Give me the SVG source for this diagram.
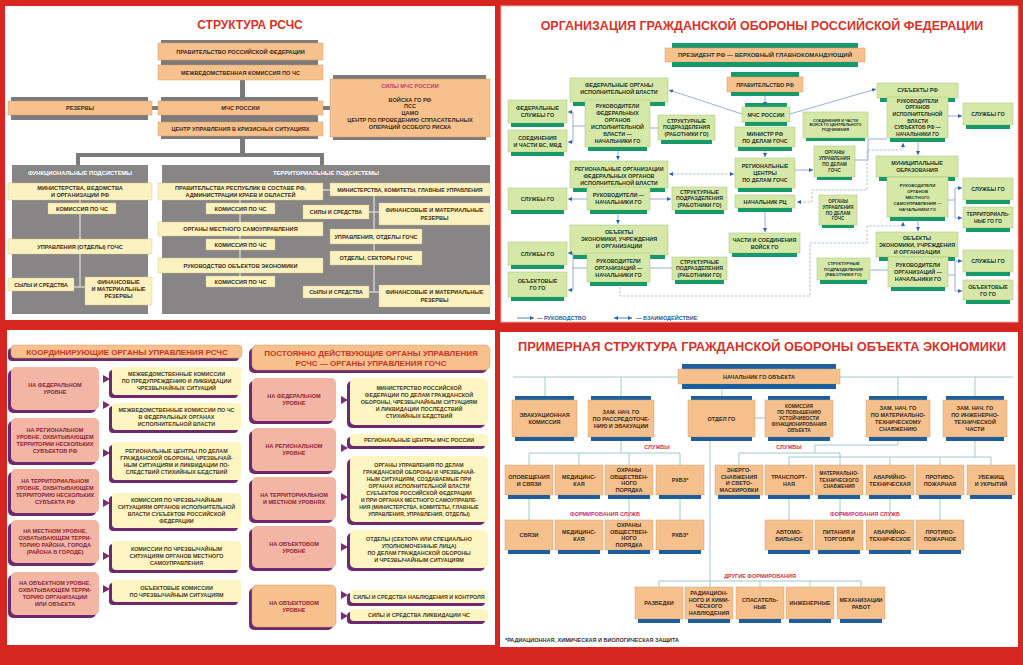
<svg xmlns="http://www.w3.org/2000/svg" width="1023" height="665" viewBox="0 0 1023 665">
<defs>
<style>
.tx{font-family:"Liberation Sans",Arial,sans-serif;font-weight:bold;text-anchor:middle}
.a{font-size:5.6px;fill:#3b2b1c}
.w{font-size:5.8px;fill:#ffffff}
.b{font-size:5.4px;fill:#22372a}
.p{font-size:5.5px;fill:#8a2438}
.y{font-size:5.4px;fill:#4a3a22}
.r{font-size:5.5px;fill:#3a2a1a}
.lab{font-size:5.5px;fill:#d0305a}
.ttl{font-family:"Liberation Sans",Arial,sans-serif;font-weight:bold;text-anchor:middle;fill:#d8322a}
.hd{font-family:"Liberation Sans",Arial,sans-serif;font-weight:bold;text-anchor:middle;fill:#c8342a;font-size:8px}
.or{fill:#f6c18d;stroke:#d49a6a;stroke-width:0.5}
.gbar{fill:#7c7a7b}
.gpan{fill:#878586}
.yl{fill:#fcf2bf;stroke:#cfc38a;stroke-width:0.4}
.gn{fill:#d6e8a8;stroke:#a3c27a;stroke-width:0.5}
.gb{fill:#17996a}
.bl{fill:none;stroke:#7f9dc6;stroke-width:0.8}
.dl{fill:none;stroke:#9ab0cc;stroke-width:0.8;stroke-dasharray:2.5,1.5}
.pk{fill:#f3b6a4}
.sh{fill:#6c2a6c}
.yb{fill:#fdf6c3}
.tri{fill:#7e2a78}
.ob{fill:#f5c08b;stroke:#c8a27c;stroke-width:0.5}
.bb{fill:#1d5e9e}
.ln{fill:none;stroke:#a6c8d2;stroke-width:1}
.gl{fill:none;stroke:#d0d0d0;stroke-width:1.5}
</style>
<marker id="ar" viewBox="0 0 6 6" refX="6" refY="3" markerWidth="4" markerHeight="4" markerUnits="userSpaceOnUse" orient="auto-start-reverse"><path d="M0,0L6,3L0,6z" fill="#2e62a6"/></marker>
</defs>

<rect x="0" y="0" width="1023" height="665" fill="#d5261f"/>
<rect x="5" y="6" width="490" height="314" fill="#ffffff"/>
<rect x="501" y="6" width="517" height="316" fill="#ffffff" stroke="#f2b7a6" stroke-width="1"/>
<rect x="7" y="330" width="488" height="315" fill="#ffffff"/>
<rect x="500" y="332" width="518" height="315" fill="#ffffff"/>

<!-- ============ TOP LEFT: СТРУКТУРА РСЧС ============ -->
<text class="ttl" x="250" y="29" font-size="12">СТРУКТУРА РСЧС</text>

<g id="tl-connectors">
<rect class="gbar" x="161" y="40" width="157" height="40"/>
<rect class="gbar" x="161" y="97" width="157" height="42"/>
<rect class="gbar" x="11" y="97" width="137" height="23"/>
<rect class="gbar" x="333" y="75" width="153" height="65"/>
<rect class="gbar" x="240" y="80" width="5" height="17"/>
<rect class="gbar" x="152" y="106" width="6" height="4"/>
<rect class="gbar" x="323" y="106" width="7" height="4"/>
<rect class="gbar" x="240" y="139" width="5" height="16"/>
<rect class="gbar" x="76" y="153" width="248" height="4"/>
<rect class="gbar" x="76" y="153" width="4" height="12"/>
<rect class="gbar" x="320" y="153" width="4" height="12"/>
</g>

<g id="tl-func-panel"><rect class="gpan" x="12" y="165" width="136" height="149"/><text class="tx w" x="80" y="175">ФУНКЦИОНАЛЬНЫЕ ПОДСИСТЕМЫ</text></g>
<g id="tl-terr-panel"><rect class="gpan" x="162" y="165" width="328" height="149"/><text class="tx w" x="326" y="175">ТЕРРИТОРИАЛЬНЫЕ ПОДСИСТЕМЫ</text></g>

<g id="tl-inner-lines">
<path class="gl" d="M80,200V287M74,287H85"/>
<path class="gl" d="M240,200V276"/>
<path class="gl" d="M374,196V292M369,212H379M369,292H379"/>
<path class="gl" d="M323,190H330"/>
</g>

<g id="tl-prav"><rect class="or" x="158" y="43" width="165" height="17"/><text class="tx a" x="240.5" y="53.5">ПРАВИТЕЛЬСТВО РОССИЙСКОЙ ФЕДЕРАЦИИ</text></g>
<g id="tl-mkchs"><rect class="or" x="158" y="65" width="165" height="15"/><text class="tx a" x="240.5" y="74.5">МЕЖВЕДОМСТВЕННАЯ КОМИССИЯ ПО ЧС</text></g>
<g id="tl-mchs"><rect class="or" x="158" y="101" width="165" height="14"/><text class="tx a" x="240.5" y="110">МЧС РОССИИ</text></g>
<g id="tl-centr"><rect class="or" x="158" y="122" width="165" height="14"/><text class="tx a" x="240.5" y="131">ЦЕНТР УПРАВЛЕНИЯ В КРИЗИСНЫХ СИТУАЦИЯХ</text></g>
<g id="tl-rezervy"><rect class="or" x="8" y="101" width="144" height="14"/><text class="tx a" x="80" y="110">РЕЗЕРВЫ</text></g>
<g id="tl-sily"><rect class="or" x="330" y="79" width="160" height="58"/>
<text class="tx a" x="410" y="88" style="fill:#c03a7a">СИЛЫ МЧС РОССИИ</text>
<text class="tx a" x="410" y="101.5"><tspan x="410">ВОЙСКА ГО РФ</tspan><tspan x="410" dy="6.8">ПСС</tspan><tspan x="410" dy="6.8">ЦАМО</tspan><tspan x="410" dy="6.8">ЦЕНТР ПО ПРОВЕДЕНИЮ СППАСАТЕЛЬНЫХ</tspan><tspan x="410" dy="6.8">ОПЕРАЦИЙ ОСОБОГО РИСКА</tspan></text></g>

<g id="tl-f-min"><rect class="yl" x="8" y="183" width="144" height="17"/><text class="tx a" x="80" y="189.5"><tspan x="80">МИНИСТЕРСТВА, ВЕДОМСТВА</tspan><tspan x="80" dy="7">И ОРГАНИЗАЦИИ РФ</tspan></text></g>
<g id="tl-f-kom"><rect class="yl" x="48" y="203" width="68" height="11"/><text class="tx a" x="82" y="210.5">КОМИССИЯ ПО ЧС</text></g>
<g id="tl-f-upr"><rect class="yl" x="8" y="239" width="144" height="15"/><text class="tx a" x="80" y="248.5">УПРАВЛЕНИЯ (ОТДЕЛЫ) ГОЧС</text></g>
<g id="tl-f-sily"><rect class="yl" x="8" y="278" width="66" height="13"/><text class="tx a" x="41" y="286.5" style="font-size:5.3px">СЫЛЫ И СРЕДСТВА</text></g>
<g id="tl-f-fin"><rect class="yl" x="85" y="277" width="67" height="28"/><text class="tx a" x="118.5" y="284"><tspan x="118.5">ФИНАНСОВЫЕ</tspan><tspan x="118.5" dy="7">И МАТЕРИАЛЬНЫЕ</tspan><tspan x="118.5" dy="7">РЕЗЕРВЫ</tspan></text></g>

<g id="tl-t-prav"><rect class="yl" x="158" y="183" width="165" height="17"/><text class="tx a" x="240.5" y="189.5"><tspan x="240.5">ПРАВИТЕЛЬСТВА РЕСПУБЛИК В СОСТАВЕ РФ,</tspan><tspan x="240.5" dy="7">АДМИНИСТРАЦИИ КРАЕВ И ОБЛАСТЕЙ</tspan></text></g>
<g id="tl-t-min"><rect class="yl" x="330" y="183" width="160" height="13"/><text class="tx a" x="410" y="191.5" style="font-size:5.3px">МИНИСТЕРСТВА, КОМИТЕТЫ, ГЛАВНЫЕ УПРАВЛЕНИЯ</text></g>
<g id="tl-t-kom1"><rect class="yl" x="206" y="203" width="69" height="11"/><text class="tx a" x="240.5" y="210.5">КОМИССИЯ ПО ЧС</text></g>
<g id="tl-t-sily1"><rect class="yl" x="303" y="205" width="66" height="14"/><text class="tx a" x="336" y="214" style="font-size:5.3px">СИЛЫ И СРЕДСТВА</text></g>
<g id="tl-t-fin1"><rect class="yl" x="379" y="203" width="111" height="22"/><text class="tx a" x="434.5" y="212"><tspan x="434.5">ФИНАНСОВЫЕ И МАТЕРИАЛЬНЫЕ</tspan><tspan x="434.5" dy="7.5">РЕЗЕРВЫ</tspan></text></g>
<g id="tl-t-oms"><rect class="yl" x="158" y="222" width="165" height="14"/><text class="tx a" x="240.5" y="231">ОРГАНЫ МЕСТНОГО САМОУПРАВЛЕНИЯ</text></g>
<g id="tl-t-upr"><rect class="yl" x="330" y="229" width="92" height="15"/><text class="tx a" x="376" y="238.5">УПРАВЛЕНИЯ, ОТДЕЛЫ ГОЧС</text></g>
<g id="tl-t-kom2"><rect class="yl" x="206" y="239" width="69" height="11"/><text class="tx a" x="240.5" y="246.5">КОМИССИЯ ПО ЧС</text></g>
<g id="tl-t-otd"><rect class="yl" x="330" y="251" width="92" height="14"/><text class="tx a" x="376" y="260">ОТДЕЛЫ, СЕКТОРЫ ГОЧС</text></g>
<g id="tl-t-ruk"><rect class="yl" x="158" y="258" width="165" height="15"/><text class="tx a" x="240.5" y="267.5">РУКОВОДСТВО ОБЪЕКТОВ ЭКОНОМИКИ</text></g>
<g id="tl-t-kom3"><rect class="yl" x="206" y="276" width="69" height="11"/><text class="tx a" x="240.5" y="283.5">КОМИССИЯ ПО ЧС</text></g>
<g id="tl-t-sily2"><rect class="yl" x="303" y="286" width="66" height="12"/><text class="tx a" x="336" y="294" style="font-size:5.3px">СЫЛЫ И СРЕДСТВА</text></g>
<g id="tl-t-fin2"><rect class="yl" x="379" y="285" width="111" height="22"/><text class="tx a" x="434.5" y="294"><tspan x="434.5">ФИНАНСОВЫЕ И МАТЕРИАЛЬНЫЕ</tspan><tspan x="434.5" dy="7.5">РЕЗЕРВЫ</tspan></text></g>

<!-- ============ TOP RIGHT: ОРГАНИЗАЦИЯ ГО РФ ============ -->
<text class="ttl" x="762" y="30" font-size="12.5">ОРГАНИЗАЦИЯ ГРАЖДАНСКОЙ ОБОРОНЫ РОССИЙСКОЙ ФЕДЕРАЦИИ</text>

<g id="tr-pres"><rect class="gb" x="672" y="43" width="186" height="5"/><rect class="or" x="665" y="48" width="200" height="14"/><rect class="gb" x="672" y="62" width="186" height="5"/><text class="tx b" x="765" y="57" style="font-size:6px">ПРЕЗИДЕНТ РФ — ВЕРХОВНЫЙ ГЛАВНОКОМАНДУЮЩИЙ</text></g>
<g id="tr-prav"><rect class="gb" x="731" y="72" width="68" height="5"/><rect class="or" x="727" y="77" width="76" height="15"/><rect class="gb" x="731" y="92" width="68" height="4"/><text class="tx b" x="765" y="86.5">ПРАВИТЕЛЬСТВО РФ</text></g>
<g id="tr-mchs"><rect class="gb" x="745" y="103" width="42" height="4"/><rect class="gn" x="742" y="107" width="48" height="15"/><rect class="gb" x="745" y="122" width="42" height="4"/><text class="tx b" x="766" y="116.5">МЧС РОССИИ</text></g>
<g id="tr-ministr"><rect class="gn" x="735" y="127" width="60" height="20"/><rect class="gb" x="738" y="147" width="54" height="4"/><text class="tx b" x="765" y="135.5"><tspan x="765">МИНИСТР РФ</tspan><tspan x="765" dy="7">ПО ДЕЛАМ ГОЧС</tspan></text></g>
<g id="tr-soed"><rect class="gn" x="803" y="112" width="65" height="26"/><rect class="gb" x="806" y="138" width="59" height="3"/><text class="tx b" x="835.5" y="121.5" style="font-size:3.8px"><tspan x="835.5">СОЕДИНЕНИЯ И ЧАСТИ</tspan><tspan x="835.5" dy="4.8">ВОЙСК ГО ЦЕНТРАЛЬНОГО</tspan><tspan x="835.5" dy="4.8">ПОДЧИНЕНИЯ</tspan></text></g>
<g id="tr-org1"><rect class="gn" x="814" y="146" width="41" height="31"/><rect class="gb" x="817" y="177" width="35" height="3"/><text class="tx b" x="834.5" y="154.4" style="font-size:4.5px"><tspan x="834.5">ОРГАНЫ</tspan><tspan x="834.5" dy="5.8">УПРАВЛЕНИЯ</tspan><tspan x="834.5" dy="5.8">ПО ДЕЛАМ</tspan><tspan x="834.5" dy="5.8">ГОЧС</tspan></text></g>
<g id="tr-regc"><rect class="gn" x="735" y="158" width="60" height="30"/><rect class="gb" x="738" y="188" width="54" height="4"/><text class="tx b" x="765" y="168"><tspan x="765">РЕГИОНАЛЬНЫЕ</tspan><tspan x="765" dy="7">ЦЕНТРЫ</tspan><tspan x="765" dy="7">ПО ДЕЛАМ ГОЧС</tspan></text></g>
<g id="tr-nachrc"><rect class="gn" x="735" y="195" width="60" height="13"/><rect class="gb" x="738" y="208" width="54" height="4"/><text class="tx b" x="765" y="203.5">НАЧАЛЬНИК РЦ</text></g>
<g id="tr-org2"><rect class="gn" x="819" y="195" width="38" height="30"/><rect class="gb" x="822" y="225" width="32" height="3"/><text class="tx b" x="838" y="202.9" style="font-size:4.5px"><tspan x="838">ОРГАНЫ</tspan><tspan x="838" dy="5.8">УПРАВЛЕНИЯ</tspan><tspan x="838" dy="5.8">ПО ДЕЛАМ</tspan><tspan x="838" dy="5.8">ГОЧС</tspan></text></g>
<g id="tr-chasti"><rect class="gn" x="729" y="233" width="71" height="20"/><rect class="gb" x="732" y="253" width="65" height="4"/><text class="tx b" x="764.5" y="241.5"><tspan x="764.5">ЧАСТИ И СОЕДИНЕНИЯ</tspan><tspan x="764.5" dy="7">ВОЙСК ГО</tspan></text></g>

<g id="tr-subj"><rect class="gn" x="877" y="83" width="81" height="15"/><rect class="gb" x="880" y="98" width="75" height="4"/><text class="tx b" x="917.5" y="92">СУБЪЕКТЫ РФ</text></g>
<g id="tr-ruk-subj"><rect class="gn" x="887" y="97" width="61" height="41"/><rect class="gb" x="890" y="138" width="55" height="4"/><text class="tx b" x="917.5" y="102.5" style="font-size:5px"><tspan x="917.5">РУКОВОДИТЕЛИ</tspan><tspan x="917.5" dy="6.7">ОРГАНОВ</tspan><tspan x="917.5" dy="6.7">ИСПОЛНИТЕЛЬНОЙ</tspan><tspan x="917.5" dy="6.7">ВЛАСТИ</tspan><tspan x="917.5" dy="6.7">СУБЪЕКТОВ РФ —</tspan><tspan x="917.5" dy="6.7">НАЧАЛЬНИКИ ГО</tspan></text></g>
<g id="tr-sl-r1"><rect class="gn" x="963" y="103" width="50" height="22"/><rect class="gb" x="966" y="125" width="44" height="4"/><text class="tx b" x="988" y="116">СЛУЖБЫ ГО</text></g>
<g id="tr-mun"><rect class="gn" x="876" y="156" width="82" height="21"/><rect class="gb" x="879" y="177" width="76" height="4"/><text class="tx b" x="917" y="165"><tspan x="917">МУНИЦИПАЛЬНЫЕ</tspan><tspan x="917" dy="7">ОБРАЗОВАНИЯ</tspan></text></g>
<g id="tr-ruk-mun"><rect class="gn" x="887" y="177" width="61" height="40"/><rect class="gb" x="890" y="217" width="55" height="4"/><text class="tx b" x="917.5" y="186.5" style="font-size:4.3px"><tspan x="917.5">РУКОВОДИТЕЛИ</tspan><tspan x="917.5" dy="6">ОРГАНОВ</tspan><tspan x="917.5" dy="6">МЕСТНОГО</tspan><tspan x="917.5" dy="6">САМОУПРАВЛЕНИЯ —</tspan><tspan x="917.5" dy="6">НАЧАЛЬНИКИ ГО</tspan></text></g>
<g id="tr-sl-r2"><rect class="gn" x="963" y="178" width="50" height="22"/><rect class="gb" x="966" y="200" width="44" height="4"/><text class="tx b" x="988" y="191">СЛУЖБЫ ГО</text></g>
<g id="tr-terr"><rect class="gn" x="963" y="207" width="50" height="21"/><rect class="gb" x="966" y="228" width="44" height="4"/><text class="tx b" x="988" y="216" style="font-size:5px"><tspan x="988">ТЕРРИТОРИАЛЬ-</tspan><tspan x="988" dy="7">НЫЕ ГО ГО</tspan></text></g>
<g id="tr-obj-r"><rect class="gn" x="876" y="232" width="82" height="25"/><rect class="gb" x="879" y="257" width="76" height="4"/><text class="tx b" x="917" y="239.5"><tspan x="917">ОБЪЕКТЫ</tspan><tspan x="917" dy="7">ЭКОНОМИКИ, УЧРЕЖДЕНИЯ</tspan><tspan x="917" dy="7">И ОРГАНИЗАЦИИ</tspan></text></g>
<g id="tr-ruk-org-r"><rect class="gn" x="888" y="257" width="60" height="30"/><rect class="gb" x="891" y="287" width="54" height="4"/><text class="tx b" x="918" y="267"><tspan x="918">РУКОВОДИТЕЛИ</tspan><tspan x="918" dy="7">ОРГАНИЗАЦИЙ —</tspan><tspan x="918" dy="7">НАЧАЛЬНИКИ ГО</tspan></text></g>
<g id="tr-str-r"><rect class="gn" x="817" y="258" width="53" height="22"/><rect class="gb" x="820" y="280" width="47" height="4"/><text class="tx b" x="843.5" y="265" style="font-size:4.3px"><tspan x="843.5">СТРУКТУРНЫЕ</tspan><tspan x="843.5" dy="5.5">ПОДРАЗДЕЛЕНИЯ</tspan><tspan x="843.5" dy="5.5">(РАБОТНИКИ ГО)</tspan></text></g>
<g id="tr-sl-r3"><rect class="gn" x="963" y="250" width="50" height="22"/><rect class="gb" x="966" y="272" width="44" height="4"/><text class="tx b" x="988" y="263">СЛУЖБЫ ГО</text></g>
<g id="tr-objgo-r"><rect class="gn" x="963" y="280" width="50" height="20"/><rect class="gb" x="966" y="300" width="44" height="4"/><text class="tx b" x="988" y="288.5"><tspan x="988">ОБЪЕКТОВЫЕ</tspan><tspan x="988" dy="7">ГО ГО</tspan></text></g>

<g id="tr-fed"><rect class="gn" x="570" y="78" width="98" height="24"/><rect class="gb" x="573" y="102" width="92" height="4"/><text class="tx b" x="619" y="87"><tspan x="619">ФЕДЕРАЛЬНЫЕ ОРГАНЫ</tspan><tspan x="619" dy="7">ИСПОЛНИТЕЛЬНОЙ ВЛАСТИ</tspan></text></g>
<g id="tr-ruk-fed"><rect class="gn" x="585" y="100" width="65" height="47"/><rect class="gb" x="588" y="147" width="59" height="4"/><text class="tx b" x="617.5" y="107.5" style="font-size:5.3px"><tspan x="617.5">РУКОВОДИТЕЛИ</tspan><tspan x="617.5" dy="7">ФЕДЕРАЛЬНЫХ</tspan><tspan x="617.5" dy="7">ОРГАНОВ</tspan><tspan x="617.5" dy="7">ИСПОЛНИТЕЛЬНОЙ</tspan><tspan x="617.5" dy="7">ВЛАСТИ —</tspan><tspan x="617.5" dy="7">НАЧАЛЬНИКИ ГО</tspan></text></g>
<g id="tr-fedsl"><rect class="gn" x="508" y="100" width="59" height="23"/><rect class="gb" x="511" y="123" width="53" height="4"/><text class="tx b" x="537.5" y="110"><tspan x="537.5">ФЕДЕРАЛЬНЫЕ</tspan><tspan x="537.5" dy="7">СЛУЖБЫ ГО</tspan></text></g>
<g id="tr-soedvs"><rect class="gn" x="508" y="130" width="59" height="22"/><rect class="gb" x="511" y="152" width="53" height="4"/><text class="tx b" x="537.5" y="139.5"><tspan x="537.5">СОЕДИНЕНИЯ</tspan><tspan x="537.5" dy="7">И ЧАСТИ ВС, МВД</tspan></text></g>
<g id="tr-str1"><rect class="gn" x="658" y="115" width="57" height="25"/><rect class="gb" x="661" y="140" width="51" height="4"/><text class="tx b" x="686.5" y="122.8" style="font-size:5.2px"><tspan x="686.5">СТРУКТУРНЫЕ</tspan><tspan x="686.5" dy="6.5">ПОДРАЗДЕЛЕНИЯ</tspan><tspan x="686.5" dy="6.5">(РАБОТНИКИ ГО)</tspan></text></g>
<g id="tr-regorg"><rect class="gn" x="570" y="161" width="98" height="27"/><rect class="gb" x="573" y="188" width="92" height="4"/><text class="tx b" x="619" y="171"><tspan x="619">РЕГИОНАЛЬНЫЕ ОРГАНИЗАЦИИ</tspan><tspan x="619" dy="7">ФЕДЕРАЛЬНЫХ ОРГАНОВ</tspan><tspan x="619" dy="7">ИСПОЛНИТЕЛЬНОЙ ВЛАСТИ</tspan></text></g>
<g id="tr-ruk-reg"><rect class="gn" x="587" y="187" width="63" height="23"/><rect class="gb" x="590" y="210" width="57" height="4"/><text class="tx b" x="618.5" y="197"><tspan x="618.5">РУКОВОДИТЕЛИ —</tspan><tspan x="618.5" dy="7">НАЧАЛЬНИКИ ГО</tspan></text></g>
<g id="tr-sl2"><rect class="gn" x="508" y="188" width="59" height="22"/><rect class="gb" x="511" y="210" width="53" height="4"/><text class="tx b" x="537.5" y="201">СЛУЖБЫ ГО</text></g>
<g id="tr-str2"><rect class="gn" x="672" y="187" width="55" height="23"/><rect class="gb" x="675" y="210" width="49" height="4"/><text class="tx b" x="699.5" y="193.8" style="font-size:5.2px"><tspan x="699.5">СТРУКТУРНЫЕ</tspan><tspan x="699.5" dy="6.5">ПОДРАЗДЕЛЕНИЯ</tspan><tspan x="699.5" dy="6.5">(РАБОТНИКИ ГО)</tspan></text></g>
<g id="tr-obj"><rect class="gn" x="570" y="225" width="98" height="30"/><rect class="gb" x="573" y="255" width="92" height="4"/><text class="tx b" x="619" y="234"><tspan x="619">ОБЪЕКТЫ</tspan><tspan x="619" dy="7">ЭКОНОМИКИ, УЧРЕЖДЕНИЯ</tspan><tspan x="619" dy="7">И ОРГАНИЗАЦИИ</tspan></text></g>
<g id="tr-ruk-org"><rect class="gn" x="587" y="253" width="63" height="29"/><rect class="gb" x="590" y="282" width="57" height="4"/><text class="tx b" x="618.5" y="262.5"><tspan x="618.5">РУКОВОДИТЕЛИ</tspan><tspan x="618.5" dy="7">ОРГАНИЗАЦИЙ —</tspan><tspan x="618.5" dy="7">НАЧАЛЬНИКИ ГО</tspan></text></g>
<g id="tr-sl3"><rect class="gn" x="508" y="242" width="59" height="23"/><rect class="gb" x="511" y="265" width="53" height="4"/><text class="tx b" x="537.5" y="255.5">СЛУЖБЫ ГО</text></g>
<g id="tr-objgo"><rect class="gn" x="508" y="272" width="59" height="25"/><rect class="gb" x="511" y="297" width="53" height="4"/><text class="tx b" x="537.5" y="283"><tspan x="537.5">ОБЪЕКТОВЫЕ</tspan><tspan x="537.5" dy="7">ГО ГО</tspan></text></g>
<g id="tr-str3"><rect class="gn" x="672" y="257" width="55" height="23"/><rect class="gb" x="675" y="280" width="49" height="4"/><text class="tx b" x="699.5" y="263.8" style="font-size:5.2px"><tspan x="699.5">СТРУКТУРНЫЕ</tspan><tspan x="699.5" dy="6.5">ПОДРАЗДЕЛЕНИЯ</tspan><tspan x="699.5" dy="6.5">(РАБОТНИКИ ГО)</tspan></text></g>

<g id="tr-connectors">
<path class="bl" d="M765,96V106" marker-end="url(#ar)"/>
<path class="bl" d="M742,114L669,90" marker-end="url(#ar)"/>
<path class="bl" d="M790,114L876,89" marker-end="url(#ar)"/>
<path class="bl" d="M765,151V157" marker-end="url(#ar)"/>
<path class="bl" d="M795,170H813" marker-end="url(#ar)"/>
<path class="bl" d="M855,160H868V139H887"/>
<path class="bl" d="M765,212V232" marker-end="url(#ar)"/>
<path class="dl" d="M903,143V150H867V190H812V202H797" marker-start="url(#ar)" marker-end="url(#ar)"/>
<path class="dl" d="M620,287V296H810V243H867V226H903V222" marker-end="url(#ar)"/>
<path class="dl" d="M669,174H734" marker-start="url(#ar)" marker-end="url(#ar)"/>
<path class="bl" d="M585,126H573M573,112V142"/>
<path class="bl" d="M573,112H568" marker-end="url(#ar)"/>
<path class="bl" d="M573,142H568" marker-end="url(#ar)"/>
<path class="bl" d="M650,128H658"/>
<path class="bl" d="M618,151V160" marker-end="url(#ar)"/>
<path class="bl" d="M587,199H568" marker-end="url(#ar)"/>
<path class="bl" d="M650,199H671" marker-end="url(#ar)"/>
<path class="bl" d="M618,214V224" marker-end="url(#ar)"/>
<path class="bl" d="M587,268H573M573,253V290"/>
<path class="bl" d="M573,253H568" marker-end="url(#ar)"/>
<path class="bl" d="M573,290H568" marker-end="url(#ar)"/>
<path class="bl" d="M650,268H672"/>
<path class="bl" d="M948,116H962" marker-end="url(#ar)"/>
<path class="bl" d="M918,142V155" marker-end="url(#ar)"/>
<path class="bl" d="M948,200H955M955,188V218"/>
<path class="bl" d="M955,188H962" marker-end="url(#ar)"/>
<path class="bl" d="M955,218H962" marker-end="url(#ar)"/>
<path class="bl" d="M918,221V231" marker-end="url(#ar)"/>
<path class="bl" d="M948,275H955M955,261V291"/>
<path class="bl" d="M955,261H962" marker-end="url(#ar)"/>
<path class="bl" d="M955,291H962" marker-end="url(#ar)"/>
<path class="bl" d="M888,270H870"/>
</g>

<g id="tr-legend">
<path class="bl" d="M517,318H534" marker-end="url(#ar)" style="stroke:#2e62a6"/>
<text class="tx" x="537" y="320" style="text-anchor:start;font-size:5.5px;fill:#2a5a9a">— РУКОВОДСТВО</text>
<path class="bl" d="M614,318H632" marker-start="url(#ar)" marker-end="url(#ar)" style="stroke:#2e62a6"/>
<text class="tx" x="636" y="320" style="text-anchor:start;font-size:5.5px;fill:#2a5a9a">— ВЗАИМОДЕЙСТВИЕ</text>
</g>

<!-- ============ BOTTOM LEFT ============ -->
<g id="bl-h1"><rect class="sh" x="8" y="348" width="231" height="13" rx="4"/><rect class="or" x="11" y="345" width="231" height="13" rx="4"/><text class="hd" x="127" y="354.5">КООРДИНИРУЮЩИЕ ОРГАНЫ УПРАВЛЕНИЯ РСЧС</text></g>

<g id="bl-p1"><rect class="sh" x="8" y="370" width="88" height="43" rx="5"/><rect class="pk" x="11" y="367" width="88" height="43" rx="5"/><text class="tx p" x="55" y="387"><tspan x="55">НА ФЕДЕРАЛЬНОМ</tspan><tspan x="55" dy="7">УРОВНЕ</tspan></text></g>
<g id="bl-p2"><rect class="sh" x="8" y="421" width="88" height="44" rx="5"/><rect class="pk" x="11" y="418" width="88" height="44" rx="5"/><text class="tx p" x="55" y="431.5"><tspan x="55">НА РЕГИОНАЛЬНОМ</tspan><tspan x="55" dy="7">УРОВНЕ, ОХВАТЫВАЮЩЕМ</tspan><tspan x="55" dy="7">ТЕРРИТОРИИ НЕСКОЛЬКИХ</tspan><tspan x="55" dy="7">СУБЪЕКТОВ РФ</tspan></text></g>
<g id="bl-p3"><rect class="sh" x="8" y="472" width="88" height="44" rx="5"/><rect class="pk" x="11" y="469" width="88" height="44" rx="5"/><text class="tx p" x="55" y="482.5"><tspan x="55">НА ТЕРРИТОРИАЛЬНОМ</tspan><tspan x="55" dy="7">УРОВНЕ, ОХВАТЫВАЮЩЕМ</tspan><tspan x="55" dy="7">ТЕРРИТОРИЮ НЕСКОЛЬКИХ</tspan><tspan x="55" dy="7">СУБЪЕКТА РФ</tspan></text></g>
<g id="bl-p4"><rect class="sh" x="8" y="523" width="88" height="43" rx="5"/><rect class="pk" x="11" y="520" width="88" height="43" rx="5"/><text class="tx p" x="55" y="533"><tspan x="55">НА МЕСТНОМ УРОВНЕ,</tspan><tspan x="55" dy="7">ОХВАТЫВАЮЩЕМ ТЕРРИ-</tspan><tspan x="55" dy="7">ТОРИЮ РАЙОНА, ГОРОДА</tspan><tspan x="55" dy="7">(РАЙОНА В ГОРОДЕ)</tspan></text></g>
<g id="bl-p5"><rect class="sh" x="8" y="575" width="88" height="43" rx="5"/><rect class="pk" x="11" y="572" width="88" height="43" rx="5"/><text class="tx p" x="55" y="585"><tspan x="55">НА ОБЪЕКТНОМ УРОВНЕ,</tspan><tspan x="55" dy="7">ОХВАТЫВАЮЩЕМ ТЕРРИ-</tspan><tspan x="55" dy="7">ТОРИЮ ОРГАНИЗАЦИИ</tspan><tspan x="55" dy="7">ИЛИ ОБЪЕКТА</tspan></text></g>

<g id="bl-arrows1">
<path class="tri" d="M103,375L110,379L103,383z"/>
<path class="tri" d="M103,401L110,405L103,409z"/>
<path class="tri" d="M103,449L110,453L103,457z"/>
<path class="tri" d="M103,499L110,503L103,507z"/>
<path class="tri" d="M103,552L110,556L103,560z"/>
<path class="tri" d="M103,585L110,589L103,593z"/>
</g>

<g id="bl-y1"><rect class="sh" x="109" y="370" width="129" height="28" rx="4"/><rect class="yb" x="112" y="367" width="129" height="28" rx="4"/><text class="tx y" x="176.5" y="376"><tspan x="176.5">МЕЖВЕДОМСТВЕННЫЕ КОМИССИИ</tspan><tspan x="176.5" dy="7">ПО ПРЕДУПРЕЖДЕНИЮ И ЛИКВИДАЦИИ</tspan><tspan x="176.5" dy="7">ЧРЕЗВЫЧАЙНЫХ СИТУАЦИЙ</tspan></text></g>
<g id="bl-y2"><rect class="sh" x="109" y="406" width="129" height="27" rx="4"/><rect class="yb" x="112" y="403" width="129" height="27" rx="4"/><text class="tx y" x="176.5" y="411.5"><tspan x="176.5">МЕЖВЕДОМСТВЕННЫЕ КОМИССИИ ПО ЧС</tspan><tspan x="176.5" dy="7">В ФЕДЕРАЛЬНЫХ ОРГАНАХ</tspan><tspan x="176.5" dy="7">ИСПОЛНИТЕЛЬНОЙ ВЛАСТИ</tspan></text></g>
<g id="bl-y3"><rect class="sh" x="109" y="445" width="129" height="38" rx="4"/><rect class="yb" x="112" y="442" width="129" height="38" rx="4"/><text class="tx y" x="176.5" y="452.5"><tspan x="176.5">РЕГИОНАЛЬНЫЕ ЦЕНТРЫ ПО ДЕЛАМ</tspan><tspan x="176.5" dy="7">ГРАЖДАНСКОЙ ОБОРОНЫ, ЧРЕЗВЫЧАЙ-</tspan><tspan x="176.5" dy="7">НЫМ СИТУАЦИЯМ И ЛИКВИДАЦИИ ПО-</tspan><tspan x="176.5" dy="7">СЛЕДСТВИЙ СТИХИЙНЫХ БЕДСТВИЙ</tspan></text></g>
<g id="bl-y4"><rect class="sh" x="109" y="496" width="129" height="35" rx="4"/><rect class="yb" x="112" y="493" width="129" height="35" rx="4"/><text class="tx y" x="176.5" y="502"><tspan x="176.5">КОМИССИЯ ПО ЧРЕЗВЫЧАЙНЫМ</tspan><tspan x="176.5" dy="7">СИТУАЦИЯМ ОРГАНОВ ИСПОЛНИТЕЛЬНОЙ</tspan><tspan x="176.5" dy="7">ВЛАСТИ СУБЪЕКТОВ РОССИЙСКОЙ</tspan><tspan x="176.5" dy="7">ФЕДЕРАЦИИ</tspan></text></g>
<g id="bl-y5"><rect class="sh" x="109" y="544" width="129" height="29" rx="4"/><rect class="yb" x="112" y="541" width="129" height="29" rx="4"/><text class="tx y" x="176.5" y="550.5"><tspan x="176.5">КОМИССИИ ПО ЧРЕЗВЫЧАЙНЫМ</tspan><tspan x="176.5" dy="7">СИТУАЦИЯМ ОРГАНОВ МЕСТНОГО</tspan><tspan x="176.5" dy="7">САМОУПРАВЛЕНИЯ</tspan></text></g>
<g id="bl-y6"><rect class="sh" x="109" y="583" width="129" height="22" rx="4"/><rect class="yb" x="112" y="580" width="129" height="22" rx="4"/><text class="tx y" x="176.5" y="589.5"><tspan x="176.5">ОБЪЕКТОВЫЕ КОМИССИИ</tspan><tspan x="176.5" dy="7">ПО ЧРЕЗВЫЧАЙНЫМ СИТУАЦИЯМ</tspan></text></g>

<g id="bl-h2"><rect class="sh" x="249" y="348" width="238" height="25" rx="5"/><rect class="or" x="252" y="345" width="238" height="25" rx="5"/><text class="hd" x="371" y="355.5"><tspan x="371">ПОСТОЯННО ДЕЙСТВУЮЩИЕ ОРГАНЫ УПРАВЛЕНИЯ</tspan><tspan x="371" dy="10.5">РСЧС — ОРГАНЫ УПРАВЛЕНИЯ ГОЧС</tspan></text></g>

<g id="bl-q1"><rect class="sh" x="249" y="381" width="84" height="43" rx="5"/><rect class="pk" x="252" y="378" width="84" height="43" rx="5"/><text class="tx p" x="294" y="398"><tspan x="294">НА ФЕДЕРАЛЬНОМ</tspan><tspan x="294" dy="7">УРОВНЕ</tspan></text></g>
<g id="bl-q2"><rect class="sh" x="249" y="431" width="84" height="43" rx="5"/><rect class="pk" x="252" y="428" width="84" height="43" rx="5"/><text class="tx p" x="294" y="448"><tspan x="294">НА РЕГИОНАЛЬНОМ</tspan><tspan x="294" dy="7">УРОВНЕ</tspan></text></g>
<g id="bl-q3"><rect class="sh" x="249" y="480" width="84" height="43" rx="5"/><rect class="pk" x="252" y="477" width="84" height="43" rx="5"/><text class="tx p" x="294" y="497"><tspan x="294">НА ТЕРРИТОРИАЛЬНОМ</tspan><tspan x="294" dy="7">И МЕСТНОМ УРОВНЯХ</tspan></text></g>
<g id="bl-q4"><rect class="sh" x="249" y="529" width="84" height="42" rx="5"/><rect class="pk" x="252" y="526" width="84" height="42" rx="5"/><text class="tx p" x="294" y="545.5"><tspan x="294">НА ОБЪЕКТОВОМ</tspan><tspan x="294" dy="7">УРОВНЕ</tspan></text></g>
<g id="bl-q5"><rect class="sh" x="249" y="588" width="84" height="42" rx="5"/><rect class="or" x="252" y="585" width="84" height="42" rx="5"/><text class="tx p" x="294" y="604.5"><tspan x="294">НА ОБЪЕКТОВОМ</tspan><tspan x="294" dy="7">УРОВНЕ</tspan></text></g>

<g id="bl-arrows2">
<path class="tri" d="M341,396L348,400L341,404z"/>
<path class="tri" d="M341,444L348,448L341,452z"/>
<path class="tri" d="M341,493L348,497L341,501z"/>
<path class="tri" d="M341,543L348,547L341,551z"/>
<path class="tri" d="M341,591L348,595L341,599z"/>
<path class="tri" d="M341,612L348,616L341,620z"/>
</g>

<g id="bl-z1"><rect class="sh" x="347" y="381" width="138" height="47" rx="5"/><rect class="yb" x="350" y="378" width="138" height="47" rx="5"/><text class="tx y" x="419" y="389.5"><tspan x="419">МИНИСТЕРСТВО РОССИЙСКОЙ</tspan><tspan x="419" dy="7">ФЕДЕРАЦИИ ПО ДЕЛАМ ГРАЖДАНСКОЙ</tspan><tspan x="419" dy="7">ОБОРОНЫ, ЧРЕЗВЫЧАЙНЫМ СИТУАЦИЯМ</tspan><tspan x="419" dy="7">И ЛИКВИДАЦИИ ПОСЛЕДСТВИЙ</tspan><tspan x="419" dy="7">СТИХИЙНЫХ БЕДСТВИЙ</tspan></text></g>
<g id="bl-z2"><rect class="sh" x="347" y="437" width="138" height="12" rx="4"/><rect class="yb" x="350" y="434" width="138" height="12" rx="4"/><text class="tx y" x="419" y="442">РЕГИОНАЛЬНЫЕ ЦЕНТРЫ МЧС РОССИИ</text></g>
<g id="bl-z3"><rect class="sh" x="347" y="459" width="138" height="66" rx="5"/><rect class="yb" x="350" y="456" width="138" height="66" rx="5"/><text class="tx y" x="419" y="466.5" style="font-size:5.2px"><tspan x="419">ОРГАНЫ УПРАВЛЕНИЯ ПО ДЕЛАМ</tspan><tspan x="419" dy="7">ГРАЖДАНСКОЙ ОБОРОНЫ И ЧРЕЗВЫЧАЙ-</tspan><tspan x="419" dy="7">НЫМ СИТУАЦИЯМ, СОЗДАВАЕМЫЕ ПРИ</tspan><tspan x="419" dy="7">ОРГАНАХ ИСПОЛНИТЕЛЬНОЙ ВЛАСТИ</tspan><tspan x="419" dy="7">СУБЪЕКТОВ РОССИЙСКОЙ ФЕДЕРАЦИИ</tspan><tspan x="419" dy="7">И ПРИ ОРГАНАХ МЕСТНОГО САМОУПРАВЛЕ-</tspan><tspan x="419" dy="7">НИЯ (МИНИСТЕРСТВА, КОМИТЕТЫ, ГЛАВНЫЕ</tspan><tspan x="419" dy="7">УПРАВЛЕНИЯ, УПРАВЛЕНИЯ, ОТДЕЛЫ)</tspan></text></g>
<g id="bl-z4"><rect class="sh" x="347" y="533" width="138" height="38" rx="5"/><rect class="yb" x="350" y="530" width="138" height="38" rx="5"/><text class="tx y" x="419" y="540.5"><tspan x="419">ОТДЕЛЫ (СЕКТОРА ИЛИ СПЕЦИАЛЬНО</tspan><tspan x="419" dy="7">УПОЛНОМОЧЕННЫЕ ЛИЦА)</tspan><tspan x="419" dy="7">ПО ДЕЛАМ ГРАЖДАНСКОЙ ОБОРОНЫ</tspan><tspan x="419" dy="7">И ЧРЕЗВЫЧАЙНЫМ СИТУАЦИЯМ</tspan></text></g>
<g id="bl-z5"><rect class="sh" x="347" y="593" width="138" height="13" rx="4"/><rect class="yb" x="350" y="590" width="138" height="13" rx="4"/><text class="tx y" x="419" y="598.5">СИЛЫ И СРЕДСТВА НАБЛЮДЕНИЯ И КОНТРОЛЯ</text></g>
<g id="bl-z6"><rect class="sh" x="347" y="612" width="138" height="12" rx="4"/><rect class="yb" x="350" y="609" width="138" height="12" rx="4"/><text class="tx y" x="419" y="617">СИЛЫ И СРЕДСТВА ЛИКВИДАЦИИ ЧС</text></g>

<!-- ============ BOTTOM RIGHT ============ -->
<text class="ttl" x="762" y="351" font-size="12.8">ПРИМЕРНАЯ СТРУКТУРА ГРАЖДАНСКОЙ ОБОРОНЫ ОБЪЕКТА ЭКОНОМИКИ</text>

<g id="br-connectors">
<path class="ln" d="M513,377H1013"/>
<path class="ln" d="M545,377V396M621,377V396M898,377V396M975,377V396"/>
<path class="ln" d="M722,389V396"/>
<path class="ln" d="M755,418H765"/>
<path class="ln" d="M710,441V587"/>
<path class="ln" d="M621,441V453M529,453H680M529,453V465M579,453V465M629,453V465M680,453V465"/>
<path class="ln" d="M898,441V445H815V453M739,453H840M739,453V465M840,453V465"/>
<path class="ln" d="M975,441V457M789,457H991M789,457V465M890,457V465M940,457V465M991,457V465"/>
<path class="ln" d="M529,499V520M629,499V520M680,499V520"/>
<path class="ln" d="M789,499V520M840,499V520M890,499V520M940,499V520"/>
<path class="ln" d="M659,581H861M659,581V587M760,581V587M810,581V587M861,581V587"/>
</g>

<g id="br-labels">
<text class="tx lab" x="657" y="449">СЛУЖБЫ</text>
<text class="tx lab" x="789" y="449">СЛУЖБЫ</text>
<text class="tx lab" x="605" y="516">ФОРМИРОВАНИЯ СЛУЖБ</text>
<text class="tx lab" x="865" y="516">ФОРМИРОВАНИЯ СЛУЖБ</text>
<text class="tx lab" x="760" y="578">ДРУГИЕ ФОРМИРОВАНИЯ</text>
</g>

<g id="br-nach"><rect class="bb" x="682" y="364" width="154" height="5"/><rect class="ob" x="678" y="369" width="162" height="15"/><rect class="bb" x="682" y="384" width="154" height="5"/><text class="tx r" x="759" y="378.5">НАЧАЛЬНИК ГО ОБЪЕКТА</text></g>

<g id="br-evak"><rect class="bb" x="515" y="396" width="59" height="4"/><rect class="ob" x="512" y="400" width="65" height="37"/><rect class="bb" x="515" y="437" width="59" height="4"/><text class="tx r" x="544.5" y="417"><tspan x="544.5">ЭВАКУАЦИОННАЯ</tspan><tspan x="544.5" dy="7">КОМИССИЯ</tspan></text></g>
<g id="br-zam1"><rect class="bb" x="591" y="396" width="60" height="4"/><rect class="ob" x="588" y="400" width="66" height="37"/><rect class="bb" x="591" y="437" width="60" height="4"/><text class="tx r" x="621" y="413.5"><tspan x="621">ЗАМ. НАЧ. ГО</tspan><tspan x="621" dy="7">ПО РАССРЕДОТОЧЕ-</tspan><tspan x="621" dy="7">НИЮ И ЭВАКУАЦИИ</tspan></text></g>
<g id="br-otdel"><rect class="bb" x="691" y="396" width="61" height="4"/><rect class="ob" x="688" y="400" width="67" height="37"/><rect class="bb" x="691" y="437" width="61" height="4"/><text class="tx r" x="721.5" y="420.5">ОТДЕЛ ГО</text></g>
<g id="br-kom"><rect class="bb" x="768" y="396" width="62" height="4"/><rect class="ob" x="765" y="400" width="68" height="37"/><rect class="bb" x="768" y="437" width="62" height="4"/><text class="tx r" x="799" y="408.2" style="font-size:4.8px"><tspan x="799">КОМИССИЯ</tspan><tspan x="799" dy="6">ПО ПОВЫШЕНИЮ</tspan><tspan x="799" dy="6">УСТОЙЧИВОСТИ</tspan><tspan x="799" dy="6">ФУНКЦИОНИРОВАНИЯ</tspan><tspan x="799" dy="6">ОБЪЕКТА</tspan></text></g>
<g id="br-zam2"><rect class="bb" x="869" y="396" width="58" height="4"/><rect class="ob" x="866" y="400" width="64" height="37"/><rect class="bb" x="869" y="437" width="58" height="4"/><text class="tx r" x="898" y="410"><tspan x="898">ЗАМ. НАЧ. ГО</tspan><tspan x="898" dy="7">ПО МАТЕРИАЛЬНО-</tspan><tspan x="898" dy="7">ТЕХНИЧЕСКОМУ</tspan><tspan x="898" dy="7">СНАБЖЕНИЮ</tspan></text></g>
<g id="br-zam3"><rect class="bb" x="946" y="396" width="58" height="4"/><rect class="ob" x="943" y="400" width="64" height="37"/><rect class="bb" x="946" y="437" width="58" height="4"/><text class="tx r" x="975" y="410"><tspan x="975">ЗАМ. НАЧ. ГО</tspan><tspan x="975" dy="7">ПО ИНЖЕНЕРНО-</tspan><tspan x="975" dy="7">ТЕХНИЧЕСКОЙ</tspan><tspan x="975" dy="7">ЧАСТИ</tspan></text></g>

<g id="br-s-opov"><rect class="ob" x="505" y="465" width="48" height="30"/><rect class="bb" x="508" y="495" width="42" height="4"/><text class="tx r" x="529" y="479"><tspan x="529">ОПОВЕЩЕНИЯ</tspan><tspan x="529" dy="7">И СВЯЗИ</tspan></text></g>
<g id="br-s-med"><rect class="ob" x="555" y="465" width="48" height="30"/><rect class="bb" x="558" y="495" width="42" height="4"/><text class="tx r" x="579" y="479"><tspan x="579">МЕДИЦИНС-</tspan><tspan x="579" dy="7">КАЯ</tspan></text></g>
<g id="br-s-ohr"><rect class="ob" x="605" y="465" width="48" height="30"/><rect class="bb" x="608" y="495" width="42" height="4"/><text class="tx r" x="629" y="472.2"><tspan x="629">ОХРАНЫ</tspan><tspan x="629" dy="6.5">ОБЩЕСТВЕН-</tspan><tspan x="629" dy="6.5">НОГО</tspan><tspan x="629" dy="6.5">ПОРЯДКА</tspan></text></g>
<g id="br-s-rhbz"><rect class="ob" x="656" y="465" width="48" height="30"/><rect class="bb" x="659" y="495" width="42" height="4"/><text class="tx r" x="680" y="482">РХБЗ*</text></g>
<g id="br-s-energo"><rect class="ob" x="715" y="465" width="48" height="30"/><rect class="bb" x="718" y="495" width="42" height="4"/><text class="tx r" x="739" y="472.2"><tspan x="739">ЭНЕРГО-</tspan><tspan x="739" dy="6.5">СНАБЖЕНИЯ</tspan><tspan x="739" dy="6.5">И СВЕТО-</tspan><tspan x="739" dy="6.5">МАСКИРОВКИ</tspan></text></g>
<g id="br-s-trans"><rect class="ob" x="765" y="465" width="48" height="30"/><rect class="bb" x="768" y="495" width="42" height="4"/><text class="tx r" x="789" y="479"><tspan x="789">ТРАНСПОРТ-</tspan><tspan x="789" dy="7">НАЯ</tspan></text></g>
<g id="br-s-mat"><rect class="ob" x="815" y="465" width="48" height="30"/><rect class="bb" x="818" y="495" width="42" height="4"/><text class="tx r" x="839" y="475.2" style="font-size:4.8px"><tspan x="839">МАТЕРИАЛЬНО-</tspan><tspan x="839" dy="6.5">ТЕХНИЧЕСКОГО</tspan><tspan x="839" dy="6.5">СНАБЖЕНИЯ</tspan></text></g>
<g id="br-s-avar"><rect class="ob" x="866" y="465" width="48" height="30"/><rect class="bb" x="869" y="495" width="42" height="4"/><text class="tx r" x="890" y="479"><tspan x="890">АВАРИЙНО-</tspan><tspan x="890" dy="7">ТЕХНИЧЕСКАЯ</tspan></text></g>
<g id="br-s-prot"><rect class="ob" x="916" y="465" width="48" height="30"/><rect class="bb" x="919" y="495" width="42" height="4"/><text class="tx r" x="940" y="479"><tspan x="940">ПРОТИВО-</tspan><tspan x="940" dy="7">ПОЖАРНАЯ</tspan></text></g>
<g id="br-s-ubez"><rect class="ob" x="967" y="465" width="48" height="30"/><rect class="bb" x="970" y="495" width="42" height="4"/><text class="tx r" x="991" y="479"><tspan x="991">УБЕЖИЩ</tspan><tspan x="991" dy="7">И УКРЫТИЙ</tspan></text></g>

<g id="br-f-svyaz"><rect class="ob" x="505" y="520" width="48" height="30"/><rect class="bb" x="508" y="550" width="42" height="4"/><text class="tx r" x="529" y="537">СВЯЗИ</text></g>
<g id="br-f-med"><rect class="ob" x="555" y="520" width="48" height="30"/><rect class="bb" x="558" y="550" width="42" height="4"/><text class="tx r" x="579" y="534"><tspan x="579">МЕДИЦИНС-</tspan><tspan x="579" dy="7">КАЯ</tspan></text></g>
<g id="br-f-ohr"><rect class="ob" x="605" y="520" width="48" height="30"/><rect class="bb" x="608" y="550" width="42" height="4"/><text class="tx r" x="629" y="527.2"><tspan x="629">ОХРАНЫ</tspan><tspan x="629" dy="6.5">ОБЩЕСТВЕН-</tspan><tspan x="629" dy="6.5">НОГО</tspan><tspan x="629" dy="6.5">ПОРЯДКА</tspan></text></g>
<g id="br-f-rhbz"><rect class="ob" x="656" y="520" width="48" height="30"/><rect class="bb" x="659" y="550" width="42" height="4"/><text class="tx r" x="680" y="537">РХБЗ*</text></g>
<g id="br-f-avto"><rect class="ob" x="765" y="520" width="48" height="30"/><rect class="bb" x="768" y="550" width="42" height="4"/><text class="tx r" x="789" y="534"><tspan x="789">АВТОМО-</tspan><tspan x="789" dy="7">БИЛЬНОЕ</tspan></text></g>
<g id="br-f-pit"><rect class="ob" x="815" y="520" width="48" height="30"/><rect class="bb" x="818" y="550" width="42" height="4"/><text class="tx r" x="839" y="534"><tspan x="839">ПИТАНИЯ И</tspan><tspan x="839" dy="7">ТОРГОВЛИ</tspan></text></g>
<g id="br-f-avar"><rect class="ob" x="866" y="520" width="48" height="30"/><rect class="bb" x="869" y="550" width="42" height="4"/><text class="tx r" x="890" y="534"><tspan x="890">АВАРИЙНО-</tspan><tspan x="890" dy="7">ТЕХНИЧЕСКОЕ</tspan></text></g>
<g id="br-f-prot"><rect class="ob" x="916" y="520" width="48" height="30"/><rect class="bb" x="919" y="550" width="42" height="4"/><text class="tx r" x="940" y="534"><tspan x="940">ПРОТИВО-</tspan><tspan x="940" dy="7">ПОЖАРНОЕ</tspan></text></g>

<g id="br-o-razv"><rect class="ob" x="635" y="587" width="48" height="32"/><rect class="bb" x="638" y="619" width="42" height="4"/><text class="tx r" x="659" y="605">РАЗВЕДКИ</text></g>
<g id="br-o-rad"><rect class="ob" x="685" y="587" width="48" height="32"/><rect class="bb" x="688" y="619" width="42" height="4"/><text class="tx r" x="709" y="595.2"><tspan x="709">РАДИАЦИОН-</tspan><tspan x="709" dy="6.5">НОГО И ХИМИ-</tspan><tspan x="709" dy="6.5">ЧЕСКОГО</tspan><tspan x="709" dy="6.5">НАБЛЮДЕНИЯ</tspan></text></g>
<g id="br-o-spas"><rect class="ob" x="736" y="587" width="48" height="32"/><rect class="bb" x="739" y="619" width="42" height="4"/><text class="tx r" x="760" y="602"><tspan x="760">СПАСАТЕЛЬ-</tspan><tspan x="760" dy="7">НЫЕ</tspan></text></g>
<g id="br-o-inzh"><rect class="ob" x="786" y="587" width="48" height="32"/><rect class="bb" x="789" y="619" width="42" height="4"/><text class="tx r" x="810" y="605">ИНЖЕНЕРНЫЕ</text></g>
<g id="br-o-meh"><rect class="ob" x="837" y="587" width="48" height="32"/><rect class="bb" x="840" y="619" width="42" height="4"/><text class="tx r" x="861" y="602"><tspan x="861">МЕХАНИЗАЦИИ</tspan><tspan x="861" dy="7">РАБОТ</tspan></text></g>

<text class="tx" x="505" y="642" style="text-anchor:start;font-size:5.5px;fill:#333333">*РАДИАЦИОННАЯ, ХИМИЧЕСКАЯ И БИОЛОГИЧЕСКАЯ ЗАЩИТА</text>
</svg>
